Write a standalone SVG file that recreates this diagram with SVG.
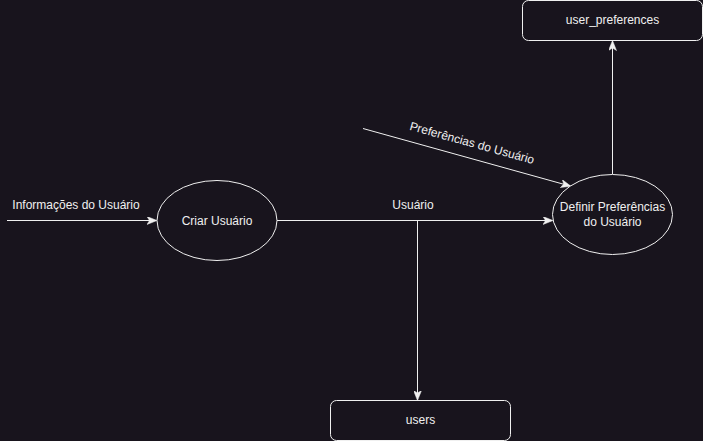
<svg xmlns="http://www.w3.org/2000/svg" width="703" height="441" viewBox="0 0 703 441">
<style>
.shape{fill:#18141d;stroke:#f0f0f0;stroke-width:1}
.edge{fill:none;stroke:#f0f0f0;stroke-width:1}
text{font-family:"Liberation Sans",Arial,sans-serif;font-size:12px;fill:#f0f0f0;text-anchor:middle;dominant-baseline:central}
</style>
<defs>
<marker id="arr" viewBox="0 0 10 8" refX="9" refY="4" markerWidth="10" markerHeight="8" markerUnits="userSpaceOnUse" orient="auto">
<path d="M0,0 L10,4 L0,8 L2.5,4 Z" fill="#f0f0f0" stroke="#f0f0f0" stroke-width="0.5"/>
</marker>
</defs>
<rect width="703" height="441" fill="#18141d"/>
<g id="connectors">
<path class="edge" d="M7,220.5 H156" marker-end="url(#arr)"/>
<path class="edge" d="M277,220.5 H552" marker-end="url(#arr)"/>
<path class="edge" d="M417.5,220.5 V399.5" marker-end="url(#arr)"/>
<path class="edge" d="M612.5,174 V41.5" marker-end="url(#arr)"/>
<path class="edge" d="M363,128.5 L570,186" marker-end="url(#arr)"/>
<text x="76" y="205">Informações do Usuário</text>
<text x="413" y="205">Usuário</text>
<text x="472" y="143" transform="rotate(15.5 472 143)">Preferências do Usuário</text>
</g>
<g id="criar">
<ellipse class="shape" cx="217" cy="220.5" rx="60" ry="40"/>
<text x="217" y="220.5">Criar Usuário</text>
</g>
<g id="definir">
<ellipse class="shape" cx="612.5" cy="214.5" rx="60" ry="40"/>
<text x="612.5" y="207">Definir Preferências</text>
<text x="612.5" y="222">do Usuário</text>
</g>
<g id="user_preferences">
<rect class="shape" x="522.5" y="0.5" width="180" height="40" rx="6"/>
<text x="612.5" y="20">user_preferences</text>
</g>
<g id="users">
<rect class="shape" x="330.5" y="400.5" width="180" height="40" rx="6"/>
<text x="420.5" y="420">users</text>
</g>
</svg>
